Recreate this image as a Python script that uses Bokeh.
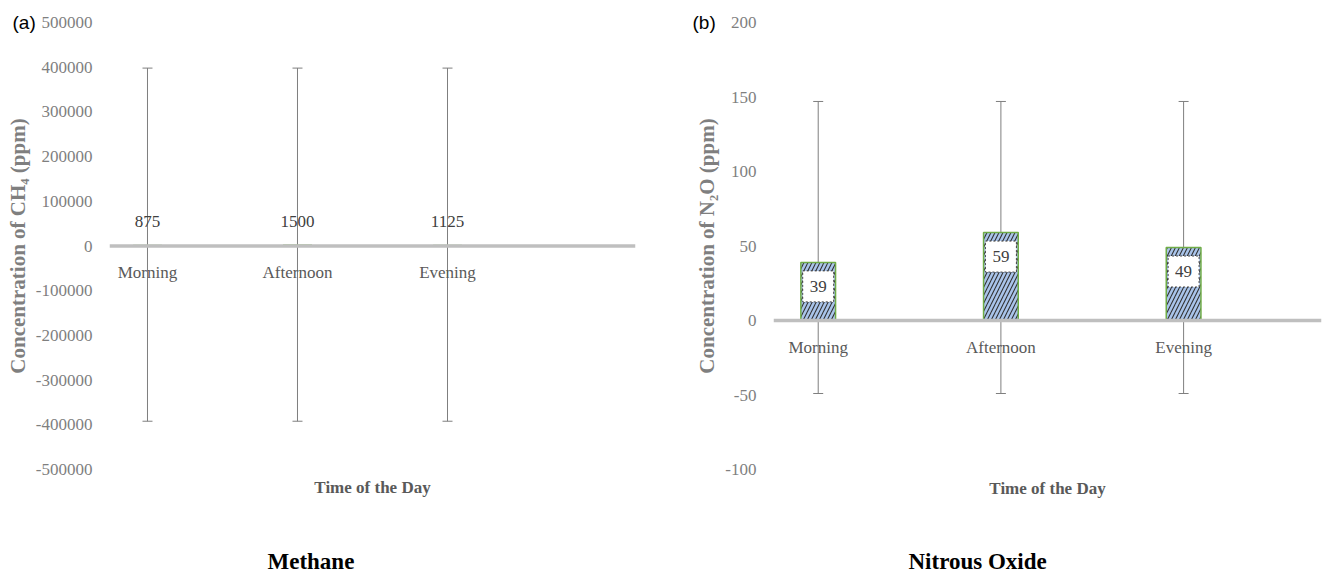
from bokeh.plotting import figure
from bokeh.layouts import row, column
from bokeh.models import (ColumnDataSource, Whisker, TeeHead, Span, Title,
                          FixedTicker, NumeralTickFormatter, Range1d)
from bokeh.core.properties import value
from bokeh.embed import file_html
from bokeh.resources import INLINE

# ---------------- data ----------------
categories = ["Morning", "Afternoon", "Evening"]

ch4_values = [875, 1500, 1125]
ch4_err_upper = [398000, 398000, 398000]
ch4_err_lower = [-392000, -392000, -392000]
ch4_ticks = [-500000, -400000, -300000, -200000, -100000, 0,
             100000, 200000, 300000, 400000, 500000]

n2o_values = [39, 59, 49]
n2o_err_upper = [147, 147, 147]
n2o_err_lower = [-49, -49, -49]
n2o_ticks = [-100, -50, 0, 50, 100, 150, 200]

# ---------------- style ----------------
SERIF = "Liberation Serif"
SANS = "Liberation Sans"
TICK_COLOR = "#7f7f7f"
CAT_COLOR = "#595959"
LBL_COLOR = "#404040"
ERR_COLOR = "#7f7f7f"
ZERO_COLOR = "#bfbfbf"
MAIN_H = 540
CAP_H = 35


def base_fig(width, x_range, y_range, ticks, border_left, border_right,
             border_bottom, ylabel, panel_tag, tag_offset, t_standoff):
    p = figure(width=width, height=MAIN_H, x_range=x_range, y_range=y_range,
               output_backend="svg", toolbar_location=None,
               x_axis_location=None,
               min_border_left=border_left, min_border_right=border_right,
               min_border_top=22, min_border_bottom=border_bottom)
    p.outline_line_color = None
    p.xgrid.visible = False
    p.ygrid.visible = False
    p.background_fill_color = "white"
    p.border_fill_color = "white"
    ax = p.yaxis[0]
    ax.ticker = FixedTicker(ticks=ticks)
    ax.formatter = NumeralTickFormatter(format="0")
    ax.axis_line_color = None
    ax.major_tick_line_color = None
    ax.minor_tick_line_color = None
    ax.major_tick_out = 0
    ax.major_tick_in = 0
    ax.minor_tick_out = 0
    ax.minor_tick_in = 0
    ax.major_label_standoff = 17
    ax.major_label_text_font = SERIF
    ax.major_label_text_font_size = "17px"
    ax.major_label_text_color = TICK_COLOR
    ax.axis_label = ylabel
    ax.axis_label_text_font = SERIF
    ax.axis_label_text_font_size = "21px"
    ax.axis_label_text_font_style = "bold"
    ax.axis_label_text_color = TICK_COLOR
    ax.axis_label_standoff = 3
    # panel tag "(a)" / "(b)"
    p.title.text = panel_tag
    p.title.align = "left"
    p.title.offset = tag_offset
    p.title.vertical_align = "bottom"
    p.title.standoff = -20
    p.title.text_font = SANS
    p.title.text_font_size = "19px"
    p.title.text_font_style = "normal"
    p.title.text_color = "black"
    # x-axis title
    p.add_layout(Title(text="Time of the Day", align="center",
                       vertical_align="top", standoff=t_standoff,
                       text_font=SERIF, text_font_size="17px",
                       text_font_style="bold", text_color=CAT_COLOR), "below")
    return p


def add_common(p, xs, values, upper, lower, bar_width):
    src = ColumnDataSource(dict(x=xs, top=values, upper=upper, lower=lower,
                                lab=[str(v) for v in values], cat=categories,
                                zero=[0] * len(xs)))
    w = Whisker(base="x", upper="upper", lower="lower", source=src,
                level="underlay", line_color=ERR_COLOR, line_width=1,
                upper_head=TeeHead(size=10, line_color=ERR_COLOR, line_width=1),
                lower_head=TeeHead(size=10, line_color=ERR_COLOR, line_width=1))
    p.add_layout(w)
    p.vbar(x="x", top="top", bottom=0, width=bar_width, source=src,
           fill_color="#a9c4ea", hatch_pattern="/", hatch_color="#333333",
           hatch_scale=8, hatch_weight=1.1,
           line_color="#70ad47", line_width=1.5)
    p.add_layout(Span(location=0, dimension="width", line_color=ZERO_COLOR,
                      line_width=3.5))
    p.text(x="x", y="zero", text="cat", source=src, y_offset=26.5,
           text_align="center", text_baseline="middle",
           text_font=value(SERIF), text_font_size="17px", text_color=CAT_COLOR)
    return src


def caption_fig(width, text, x_left):
    c = figure(width=width, height=CAP_H, x_range=Range1d(0, width),
               y_range=Range1d(CAP_H, 0), output_backend="svg", title=None,
               toolbar_location=None, x_axis_location=None,
               y_axis_location=None, min_border=0)
    c.outline_line_color = None
    c.xgrid.visible = False
    c.ygrid.visible = False
    c.background_fill_color = "white"
    c.border_fill_color = "white"
    c.text(x=[x_left], y=[21], text=[text], text_align="left",
           text_baseline="middle", text_font=value(SERIF),
           text_font_size="23px", text_font_style="bold", text_color="black")
    return c


xs = list(range(len(categories)))

# ---------------- panel (a) methane ----------------
pa = base_fig(680, (-0.2533, 3.2533), (-500000, 500000), ch4_ticks,
              109, 45, MAIN_H - 469, "Concentration of CH\u2084 (ppm)",
              "(a)", -97, 17)
src_a = add_common(pa, xs, ch4_values, ch4_err_upper, ch4_err_lower, 0.19)
pa.text(x="x", y="top", text="lab", source=src_a, y_offset=-24,
        text_align="center", text_baseline="middle",
        text_font=value(SERIF), text_font_size="17px", text_color=LBL_COLOR)

# ---------------- panel (b) nitrous oxide ----------------
pb = base_fig(644, (-0.2447, 2.7548), (-100, 200), n2o_ticks,
              93, 3, MAIN_H - 472, "Concentration of N\u2082O (ppm)",
              "(b)", -81, 18)
src_b = add_common(pb, xs, n2o_values, n2o_err_upper, n2o_err_lower, 0.19)
pb.text(x="x", y="top", text="lab", source=src_b, y_offset=24,
        text_align="center", text_baseline="middle",
        text_font=value(SERIF), text_font_size="17px", text_color=LBL_COLOR,
        background_fill_color="white", border_line_color="#404040",
        border_line_dash="2 2", border_line_width=1,
        padding=dict(left=7, right=7, top=10, bottom=10))

# ---------------- captions ----------------
ca = caption_fig(680, "Methane", 267)
cb = caption_fig(644, "Nitrous Oxide", 228)

layout = column(row(pa, pb), row(ca, cb))
open("out.html", "w").write(file_html(layout, INLINE))
